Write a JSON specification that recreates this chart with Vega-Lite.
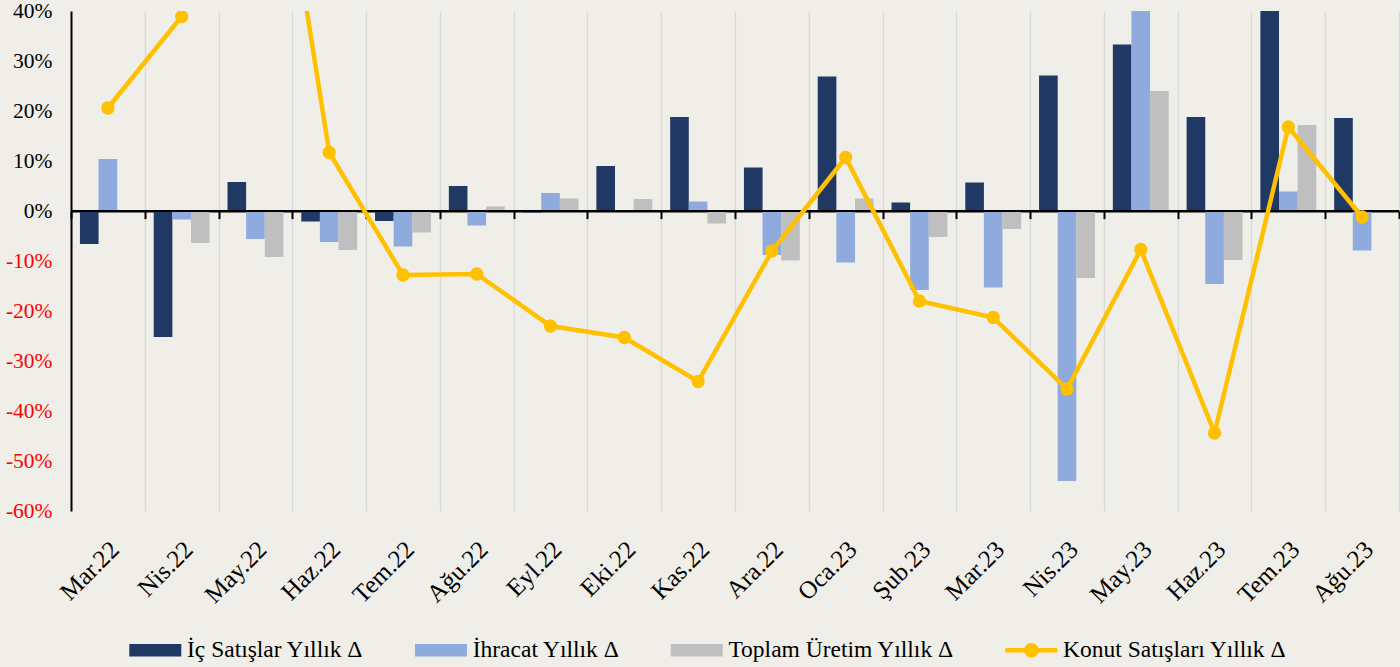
{
  "$schema": "https://vega.github.io/schema/vega-lite/v6.json",
  "width": 1328,
  "height": 500,
  "autosize": {"type": "none"},
  "padding": {"left": 71, "top": 11, "right": 1, "bottom": 156},
  "background": "#F0EEE8",
  "config": {"view": {"stroke": null}, "font": "Liberation Serif"},
  "datasets": {
    "bars": [
      {"ay": "Mar.22", "seri": "İç Satışlar Yıllık Δ", "deger": -0.066},
      {"ay": "Mar.22", "seri": "İhracat Yıllık Δ", "deger": 0.104},
      {"ay": "Mar.22", "seri": "Toplam Üretim Yıllık Δ", "deger": 0.0},
      {"ay": "Nis.22", "seri": "İç Satışlar Yıllık Δ", "deger": -0.252},
      {"ay": "Nis.22", "seri": "İhracat Yıllık Δ", "deger": -0.017},
      {"ay": "Nis.22", "seri": "Toplam Üretim Yıllık Δ", "deger": -0.064},
      {"ay": "May.22", "seri": "İç Satışlar Yıllık Δ", "deger": 0.058},
      {"ay": "May.22", "seri": "İhracat Yıllık Δ", "deger": -0.056},
      {"ay": "May.22", "seri": "Toplam Üretim Yıllık Δ", "deger": -0.092},
      {"ay": "Haz.22", "seri": "İç Satışlar Yıllık Δ", "deger": -0.021},
      {"ay": "Haz.22", "seri": "İhracat Yıllık Δ", "deger": -0.062},
      {"ay": "Haz.22", "seri": "Toplam Üretim Yıllık Δ", "deger": -0.078},
      {"ay": "Tem.22", "seri": "İç Satışlar Yıllık Δ", "deger": -0.020},
      {"ay": "Tem.22", "seri": "İhracat Yıllık Δ", "deger": -0.071},
      {"ay": "Tem.22", "seri": "Toplam Üretim Yıllık Δ", "deger": -0.043},
      {"ay": "Ağu.22", "seri": "İç Satışlar Yıllık Δ", "deger": 0.050},
      {"ay": "Ağu.22", "seri": "İhracat Yıllık Δ", "deger": -0.029},
      {"ay": "Ağu.22", "seri": "Toplam Üretim Yıllık Δ", "deger": 0.009},
      {"ay": "Eyl.22", "seri": "İç Satışlar Yıllık Δ", "deger": -0.003},
      {"ay": "Eyl.22", "seri": "İhracat Yıllık Δ", "deger": 0.036},
      {"ay": "Eyl.22", "seri": "Toplam Üretim Yıllık Δ", "deger": 0.025},
      {"ay": "Eki.22", "seri": "İç Satışlar Yıllık Δ", "deger": 0.090},
      {"ay": "Eki.22", "seri": "İhracat Yıllık Δ", "deger": 0.001},
      {"ay": "Eki.22", "seri": "Toplam Üretim Yıllık Δ", "deger": 0.024},
      {"ay": "Kas.22", "seri": "İç Satışlar Yıllık Δ", "deger": 0.188},
      {"ay": "Kas.22", "seri": "İhracat Yıllık Δ", "deger": 0.019},
      {"ay": "Kas.22", "seri": "Toplam Üretim Yıllık Δ", "deger": -0.025},
      {"ay": "Ara.22", "seri": "İç Satışlar Yıllık Δ", "deger": 0.087},
      {"ay": "Ara.22", "seri": "İhracat Yıllık Δ", "deger": -0.088},
      {"ay": "Ara.22", "seri": "Toplam Üretim Yıllık Δ", "deger": -0.099},
      {"ay": "Oca.23", "seri": "İç Satışlar Yıllık Δ", "deger": 0.269},
      {"ay": "Oca.23", "seri": "İhracat Yıllık Δ", "deger": -0.103},
      {"ay": "Oca.23", "seri": "Toplam Üretim Yıllık Δ", "deger": 0.025},
      {"ay": "Şub.23", "seri": "İç Satışlar Yıllık Δ", "deger": 0.017},
      {"ay": "Şub.23", "seri": "İhracat Yıllık Δ", "deger": -0.158},
      {"ay": "Şub.23", "seri": "Toplam Üretim Yıllık Δ", "deger": -0.052},
      {"ay": "Mar.23", "seri": "İç Satışlar Yıllık Δ", "deger": 0.057},
      {"ay": "Mar.23", "seri": "İhracat Yıllık Δ", "deger": -0.153},
      {"ay": "Mar.23", "seri": "Toplam Üretim Yıllık Δ", "deger": -0.036},
      {"ay": "Nis.23", "seri": "İç Satışlar Yıllık Δ", "deger": 0.271},
      {"ay": "Nis.23", "seri": "İhracat Yıllık Δ", "deger": -0.540},
      {"ay": "Nis.23", "seri": "Toplam Üretim Yıllık Δ", "deger": -0.134},
      {"ay": "May.23", "seri": "İç Satışlar Yıllık Δ", "deger": 0.333},
      {"ay": "May.23", "seri": "İhracat Yıllık Δ", "deger": 0.450},
      {"ay": "May.23", "seri": "Toplam Üretim Yıllık Δ", "deger": 0.240},
      {"ay": "Haz.23", "seri": "İç Satışlar Yıllık Δ", "deger": 0.188},
      {"ay": "Haz.23", "seri": "İhracat Yıllık Δ", "deger": -0.146},
      {"ay": "Haz.23", "seri": "Toplam Üretim Yıllık Δ", "deger": -0.098},
      {"ay": "Tem.23", "seri": "İç Satışlar Yıllık Δ", "deger": 0.450},
      {"ay": "Tem.23", "seri": "İhracat Yıllık Δ", "deger": 0.039},
      {"ay": "Tem.23", "seri": "Toplam Üretim Yıllık Δ", "deger": 0.172},
      {"ay": "Ağu.23", "seri": "İç Satışlar Yıllık Δ", "deger": 0.186},
      {"ay": "Ağu.23", "seri": "İhracat Yıllık Δ", "deger": -0.079},
      {"ay": "Ağu.23", "seri": "Toplam Üretim Yıllık Δ", "deger": 0.0}
    ],
    "konut": [
      {"ay": "Mar.22", "deger": 0.206},
      {"ay": "Nis.22", "deger": 0.389},
      {"ay": "May.22", "deger": 1.05},
      {"ay": "Haz.22", "deger": 0.117},
      {"ay": "Tem.22", "deger": -0.128},
      {"ay": "Ağu.22", "deger": -0.126},
      {"ay": "Eyl.22", "deger": -0.230},
      {"ay": "Eki.22", "deger": -0.253},
      {"ay": "Kas.22", "deger": -0.341},
      {"ay": "Ara.22", "deger": -0.080},
      {"ay": "Oca.23", "deger": 0.107},
      {"ay": "Şub.23", "deger": -0.180},
      {"ay": "Mar.23", "deger": -0.213},
      {"ay": "Nis.23", "deger": -0.356},
      {"ay": "May.23", "deger": -0.077},
      {"ay": "Haz.23", "deger": -0.444},
      {"ay": "Tem.23", "deger": 0.168},
      {"ay": "Ağu.23", "deger": -0.012}
    ]
  },
  "layer": [
    {
      "data": {"name": "bars"},
      "mark": {"type": "bar", "clip": true},
      "encoding": {
        "x": {
          "field": "ay",
          "type": "nominal",
          "scale": {
            "domain": ["Mar.22", "Nis.22", "May.22", "Haz.22", "Tem.22", "Ağu.22", "Eyl.22", "Eki.22", "Kas.22", "Ara.22", "Oca.23", "Şub.23", "Mar.23", "Nis.23", "May.23", "Haz.23", "Tem.23", "Ağu.23"],
            "paddingInner": 0,
            "paddingOuter": 0
          },
          "axis": {
            "title": null,
            "orient": "bottom",
            "offset": -300,
            "domain": true,
            "domainColor": "#000000",
            "domainWidth": 2,
            "ticks": true,
            "tickBand": "extent",
            "tickColor": "#000000",
            "tickWidth": 2,
            "tickSize": 7.6,
            "grid": true,
            "gridColor": "#D9D9D9",
            "gridWidth": 1.3,
            "labelAngle": -45,
            "labelAlign": "right",
            "labelBaseline": "top",
            "labelPadding": 318,
            "labelOffset": -2,
            "labelFont": "Liberation Serif",
            "labelFontSize": 25,
            "labelColor": "#000000",
            "labelOverlap": false,
            "labelLimit": 400
          }
        },
        "xOffset": {
          "field": "seri",
          "type": "nominal",
          "scale": {
            "domain": ["İç Satışlar Yıllık Δ", "İhracat Yıllık Δ", "Toplam Üretim Yıllık Δ"],
            "paddingInner": 0,
            "paddingOuter": 0.48
          }
        },
        "y": {
          "field": "deger",
          "type": "quantitative",
          "scale": {"domain": [-0.6, 0.4], "nice": false, "zero": false},
          "axis": {
            "title": null,
            "values": [-0.6, -0.5, -0.4, -0.3, -0.2, -0.1, 0, 0.1, 0.2, 0.3, 0.4],
            "labelExpr": "(datum.value < -0.0001 ? '-' : '') + format(abs(datum.value), '.0%')",
            "grid": false,
            "ticks": false,
            "tickSize": 0,
            "domain": true,
            "domainColor": "#000000",
            "domainWidth": 2,
            "labelFont": "Liberation Serif",
            "labelFontSize": 21.5,
            "labelPadding": 19,
            "labelColor": {"condition": {"test": "datum.value < -0.0001", "value": "#FF0000"}, "value": "#000000"}
          }
        },
        "color": {
          "field": "seri",
          "type": "nominal",
          "scale": {
            "domain": ["İç Satışlar Yıllık Δ", "İhracat Yıllık Δ", "Toplam Üretim Yıllık Δ", "Konut Satışları Yıllık Δ"],
            "range": ["#203864", "#8FAADC", "#BFBFBF", "#FFC000"]
          },
          "legend": {
            "title": null,
            "orient": "none",
            "legendX": 58.3,
            "legendY": 613,
            "direction": "horizontal",
            "columns": 4,
            "columnPadding": 50.7,
            "padding": 0,
            "symbolType": "M-1,-0.24L1,-0.24L1,0.24L-1,0.24Z",
            "symbolSize": 2704,
            "symbolStrokeWidth": 0,
            "symbolOpacity": 1,
            "labelFont": "Liberation Serif",
            "labelFontSize": 23.5,
            "labelColor": "#000000",
            "labelOffset": 5.7,
            "labelLimit": 400,
            "encode": {
              "symbols": {
                "update": {
                  "shape": {"signal": "datum.value === 'Konut Satışları Yıllık Δ' ? 'M-1,-0.085L1,-0.085L1,0.085L-1,0.085Z M0.28,0A0.28,0.28 0 1,1 -0.28,0A0.28,0.28 0 1,1 0.28,0Z' : 'M-1,-0.24L1,-0.24L1,0.24L-1,0.24Z'"}
                }
              }
            }
          }
        }
      }
    },
    {
      "data": {"name": "konut"},
      "mark": {"type": "rule", "color": "#000000", "strokeWidth": 2},
      "encoding": {"y": {"datum": 0}}
    },
    {
      "data": {"name": "konut"},
      "mark": {
        "type": "line",
        "color": "#FFC000",
        "strokeWidth": 4.5,
        "clip": true,
        "point": {"filled": true, "size": 177, "color": "#FFC000"}
      },
      "encoding": {
        "x": {"field": "ay", "type": "nominal"},
        "y": {"field": "deger", "type": "quantitative"}
      }
    }
  ]
}
